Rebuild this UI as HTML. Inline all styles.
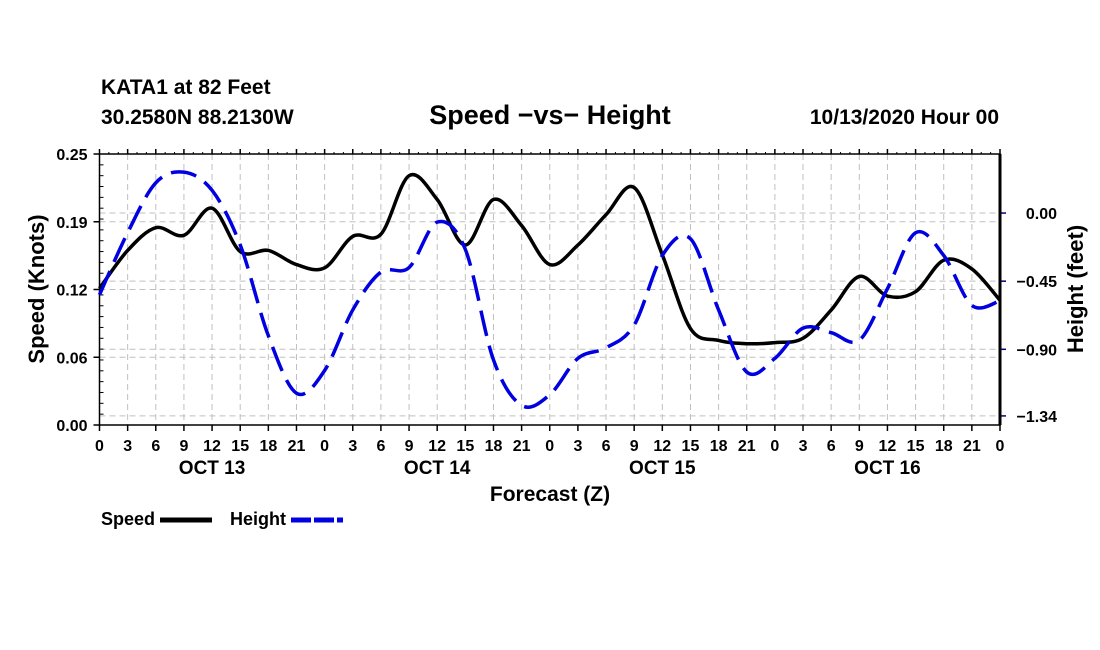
<!DOCTYPE html>
<html><head><meta charset="utf-8"><style>
body{margin:0;background:#fff;}
svg{display:block;font-family:"Liberation Sans",Arial,sans-serif;font-weight:bold;}
</style></head><body>
<svg id="chart" width="1100" height="650">
<text x="101" y="94" font-size="21">KATA1 at 82 Feet</text>
<text x="101" y="124" font-size="21">30.2580N 88.2130W</text>
<text x="550" y="124" font-size="27" text-anchor="middle">Speed −vs− Height</text>
<text x="999" y="124" font-size="21" text-anchor="end">10/13/2020 Hour 00</text>
<g id="grid"></g>
<g id="axes"></g>
<g id="series"></g>
<text x="550" y="501" font-size="21" text-anchor="middle">Forecast (Z)</text>
<text transform="translate(44,289) rotate(-90)" font-size="22" text-anchor="middle">Speed (Knots)</text>
<text transform="translate(1083,289) rotate(-90)" font-size="22" text-anchor="middle">Height (feet)</text>
<g>
<text x="101" y="525" font-size="18">Speed</text>
<line x1="160" y1="520" x2="212" y2="520" stroke="#000" stroke-width="5"/>
<text x="230" y="525" font-size="18">Height</text>
<line x1="291" y1="520" x2="343" y2="520" stroke="#0000e0" stroke-width="5" stroke-dasharray="20,3"/>
</g>
</svg>
<script>
const hours=[0,3,6,9,12,15,18,21,24,27,30,33,36,39,42,45,48,51,54,57,60,63,66,69,72,75,78,81,84,87,90,93,96];
const speed=[0.126,0.161,0.182,0.175,0.200,0.160,0.161,0.148,0.145,0.174,0.176,0.230,0.208,0.166,0.208,0.184,0.148,0.166,0.194,0.219,0.157,0.089,0.078,0.075,0.076,0.080,0.106,0.137,0.119,0.123,0.152,0.144,0.115];
const height=[-0.54,-0.13,0.20,0.27,0.15,-0.21,-0.81,-1.19,-1.04,-0.64,-0.39,-0.36,-0.06,-0.24,-0.97,-1.27,-1.20,-0.96,-0.89,-0.74,-0.28,-0.17,-0.64,-1.05,-0.96,-0.76,-0.79,-0.84,-0.50,-0.13,-0.28,-0.61,-0.58];
const speedTicks=[0,0.0625,0.125,0.1875,0.25];
const speedTickLabels=["0.00","0.06","0.12","0.19","0.25"];
const heightTicks=[0,-0.45,-0.90,-1.34];
const heightTickLabels=["0.00","−0.45","−0.90","−1.34"];
const dayLabels=["OCT 13","OCT 14","OCT 15","OCT 16"];

const L=99.5,R=1000,T=154,B=425;
const X=h=>L+(R-L)*h/96;
const YS=v=>B-(B-T)*v/0.25;
const HMIN=-1.40,HMAX=0.39;
const YH=v=>B-(B-T)*(v-HMIN)/(HMAX-HMIN);
const NS="http://www.w3.org/2000/svg";
function mk(tag,attrs,parent){const e=document.createElementNS(NS,tag);for(const k in attrs)e.setAttribute(k,attrs[k]);parent.appendChild(e);return e;}
const grid=document.getElementById('grid'),axes=document.getElementById('axes'),series=document.getElementById('series');
const gs={stroke:"#c0c0c0","stroke-width":1,"stroke-dasharray":"6,4",fill:"none"};
for(let h=3;h<96;h+=3){const e=mk('line',Object.assign({x1:X(h),x2:X(h),y1:T,y2:B},gs),grid);

}
speedTicks.forEach((v,i)=>{
 if(i>0&&i<4){const e=mk('line',Object.assign({x1:L,x2:R,y1:YS(v),y2:YS(v)},gs),grid);
 
 }
 const t=mk('text',{x:L-12,y:YS(v)+6,"font-size":16,"text-anchor":"end"},axes);t.textContent=speedTickLabels[i];
 
 
 mk('line',{x1:L-6,x2:L,y1:YS(v),y2:YS(v),stroke:"#000","stroke-width":1.5},axes);
});
for(let k=0;k<=25;k++){const y=B-(B-T)*k/25;mk('line',{x1:L,x2:L+4,y1:y,y2:y,stroke:"#000"},axes);}
heightTicks.forEach((v,i)=>{
 const e=mk('line',Object.assign({x1:L,x2:R,y1:YH(v),y2:YH(v)},gs),grid);
 
 
 mk('line',{x1:R,x2:R+6,y1:YH(v),y2:YH(v),stroke:"#000080","stroke-width":1.5},axes);
 const t=mk('text',{x:R+57,y:YH(v)+6,"font-size":16,"text-anchor":"end"},axes);t.textContent=heightTickLabels[i];
 
 
});
for(let h=0;h<=96;h+=3){
 mk('line',{x1:X(h),x2:X(h),y1:B,y2:B+6,stroke:"#000","stroke-width":1.5},axes);
 mk('line',{x1:X(h),x2:X(h),y1:T,y2:T-5,stroke:"#000","stroke-width":1.5},axes);
 const t=mk('text',{x:X(h),y:B+26,"font-size":16,"text-anchor":"middle"},axes);t.textContent=String(h%24);
 
 
}
for(let h=0;h<=96;h+=1){mk('line',{x1:X(h),x2:X(h),y1:T,y2:T-2,stroke:"#000"},axes);}
dayLabels.forEach((d,i)=>{const t=mk('text',{x:X(i*24+12),y:B+49,"font-size":19,"text-anchor":"middle"},axes);t.textContent=d;
 
 });
mk('rect',{x:L,y:T,width:R-L,height:B-T,fill:"none",stroke:"#000","stroke-width":1.5},axes);
mk('line',{x1:R,x2:R,y1:T,y2:B,stroke:"#000","stroke-width":3},axes);
function path(ys){const p=hours.map((h,i)=>[X(h),ys[i]]);let d=`M${p[0][0]},${p[0][1]}`;
 for(let i=0;i<p.length-1;i++){const p0=p[Math.max(0,i-1)],p1=p[i],p2=p[i+1],p3=p[Math.min(p.length-1,i+2)];
 d+=` C${p1[0]+(p2[0]-p0[0])/6},${p1[1]+(p2[1]-p0[1])/6} ${p2[0]-(p3[0]-p1[0])/6},${p2[1]-(p3[1]-p1[1])/6} ${p2[0]},${p2[1]}`;}return d;}
const sp=mk('path',{d:path(speed.map(YS)),stroke:"#000","stroke-width":3.5,fill:"none"},series);


const hp=mk('path',{d:path(height.map(YH)),stroke:"#0000e0","stroke-width":3.5,fill:"none","stroke-dasharray":"26,10"},series);


</script>
</body></html>
